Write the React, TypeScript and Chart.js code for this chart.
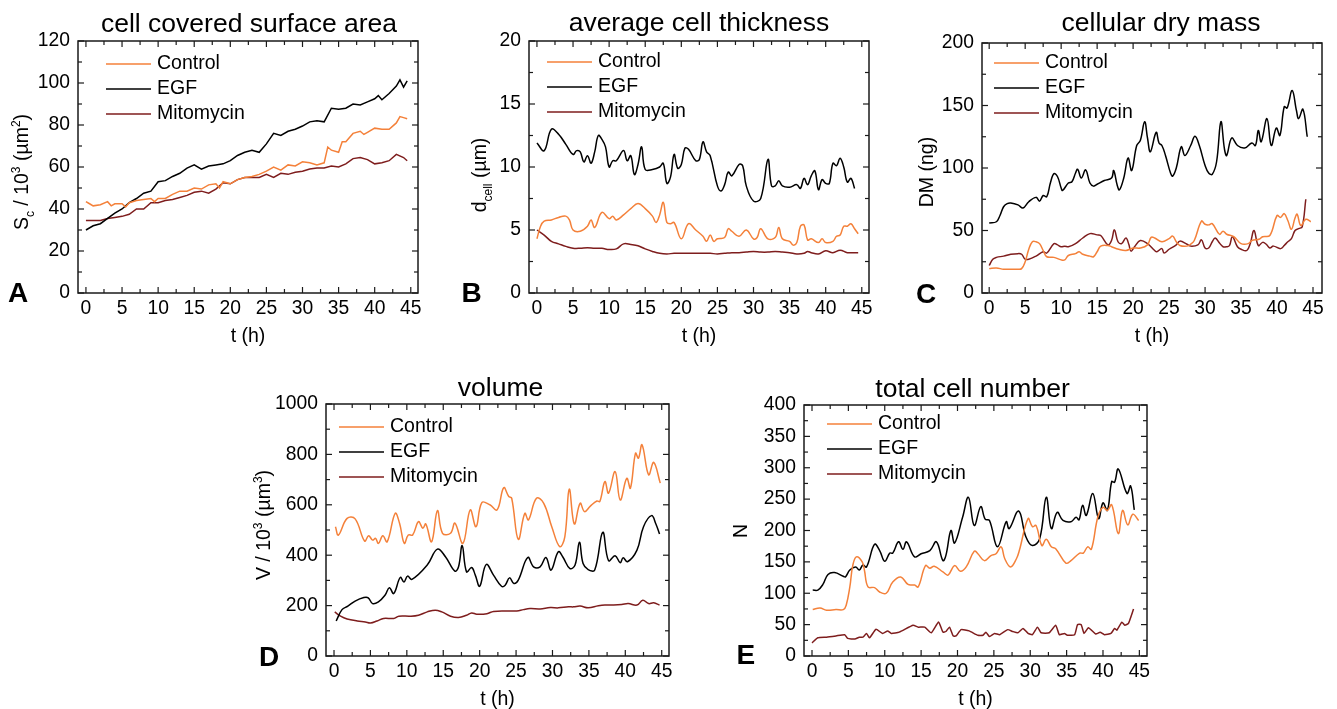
import React, { useEffect, useRef } from "react";
import { Chart, registerables } from "chart.js";
Chart.register(...registerables);

const FONT = 'Arial, "Liberation Sans", Helvetica, sans-serif';
const COLOR_CONTROL = "#F4813A";
const COLOR_EGF = "#000000";
const COLOR_MITO = "#7E1D1D";
const SERIES_NAMES = ["Control", "EGF", "Mitomycin"];

const X_TICKS = [0, 5, 10, 15, 20, 25, 30, 35, 40, 45];
const Y_TICKS_A = [0, 20, 40, 60, 80, 100, 120];
const Y_TICKS_B = [0, 5, 10, 15, 20];
const Y_TICKS_C = [0, 50, 100, 150, 200];
const Y_TICKS_D = [0, 200, 400, 600, 800, 1000];
const Y_TICKS_E = [0, 50, 100, 150, 200, 250, 300, 350, 400];

// ---------- A: cell covered surface area (10^3 µm^2) ----------
const A_CTRL_T = [0,0.5,1,2,3,3.5,4,5,5.5,6,7,8,9,9.5,10,11,12,13,14,15,16,17,18,18.5,19,20,21,22,23,24,25,26,27,28,29,30,31,32,33,33.5,34,35,35.5,36,37,38,38.5,39,40,41,42,43,43.5,44,44.5];
const A_CTRL_V = [43.5,42.5,41.5,42,43.5,41.5,42.5,42.5,41,43,44,44.5,45,43.5,45,45,47,48.5,48.5,50,49.5,51.5,52,50,53,52,54,55,55.5,56.5,58,60,58.5,61,60.5,62.5,62,61,62,69.5,68,67,72,72,76,77,75.5,76.5,78.5,78,78,81,84,83.5,83];
const A_EGF_T = [0,1,2,3,4,5,6,7,8,9,10,11,12,13,14,15,16,17,18,19,20,21,22,23,24,25,26,27,28,29,30,31,32,33,34,35,36,37,38,39,40,40.5,41,42,43,43.5,44,44.5];
const A_EGF_V = [30,32,33,35.5,38,40,43,45,47.5,48.5,53,53.5,55.5,57,59.5,61,59,60.5,61,61.5,63,65.5,67,68,67,71,76,75,77,78,79.5,81.5,82,81.5,88,87.5,88,90,89.5,91,92.5,94,92,95,98.5,101.5,98,101];
const A_MITO_T = [0,2,3,4,5,6,7,8,9,10,11,12,13,14,15,16,17,18,19,20,21,22,23,24,25,26,27,28,29,30,31,32,33,34,35,36,37,38,39,40,41,42,43,44,44.5];
const A_MITO_V = [34.5,34.5,35.5,36,36.5,37.5,40,40,43,43,44,44.5,45.5,46.5,48,48.5,47.5,49.5,52.5,52,54,55,55,55,56.5,55,57,56.5,57.5,58,59,59.5,59.5,60.5,60,61.5,64,64.5,63.5,61.5,62,63,66,64.5,63];

// ---------- B: average cell thickness (µm) ----------
const B_CTRL_T = [0,0.5,1,2,3,4,4.5,5,6,7,7.5,8,9,10,10.5,11,12,13,14,15,16,16.5,17,17.5,18,18.5,19,20,21,22,23,23.5,24,24.5,25,26,26.5,27,28,29,30,30.5,31,32,33,33.5,34,35,35.5,36,36.5,37,37.5,38,39,39.5,40,41,41.5,42,42.5,43,43.5,44,44.5];
const B_CTRL_V = [4.3,5.3,5.7,5.8,6.0,6.1,5.8,5.0,4.9,5.3,5.8,5.2,6.4,5.9,6.1,5.8,6.2,6.7,7.1,6.7,6.1,5.6,6.2,7.2,5.6,5.5,5.6,4.3,5.5,5.0,4.5,4.1,4.6,4.1,4.3,4.4,5.1,4.9,4.5,5.0,4.3,4.4,5.1,4.3,4.4,5.2,4.3,4.1,3.8,4.0,5.3,5.4,4.2,4.3,4.0,4.3,4.0,4.1,4.5,4.6,5.3,5.3,5.5,5.1,4.7];
const B_EGF_T = [0,1,2,3,4,5,5.5,6,6.5,7,7.5,8,8.5,9,9.5,10,10.5,11,12,12.5,13,13.5,14,14.5,15,16,17,17.5,18,18.5,19,19.5,20,20.5,21,22,22.5,23,23.5,24,25,25.5,26,26.5,27,28,28.5,29,30,31,32,32.5,33,33.5,34,35,36,36.5,37,37.5,38,38.5,39,39.5,40,40.5,41,41.5,42,42.5,43,43.5,44];
const B_EGF_V = [11.9,11.3,13.0,12.6,11.8,11.0,11.3,11.2,10.4,10.9,10.3,11.2,12.5,12.2,11.6,10.0,10.5,10.5,11.3,10.5,10.9,9.4,10.2,11.6,9.8,9.8,10.0,10.3,8.7,9.2,11.0,9.9,10.2,11.5,11.4,10.5,10.6,12.0,11.2,10.9,8.5,8.1,8.6,9.6,9.3,10.2,10.1,8.5,7.3,7.5,10.6,8.5,8.5,8.9,8.5,8.4,8.6,8.3,9.1,8.6,9.3,9.7,8.2,9.0,8.7,8.7,10.3,10.1,10.7,10.0,8.8,9.1,8.3];
const B_MITO_T = [0,1,2,3,4,5,6,7,8,9,10,11,12,13,14,15,16,17,18,19,20,21,22,23,24,25,26,27,28,29,30,31,32,33,34,35,36,37,37.5,38,39,40,41,42,43,44,44.5];
const B_MITO_V = [5.0,4.6,4.1,3.9,3.7,3.55,3.55,3.6,3.55,3.55,3.45,3.5,3.9,3.85,3.75,3.5,3.3,3.15,3.1,3.15,3.15,3.15,3.15,3.15,3.15,3.1,3.15,3.2,3.2,3.25,3.3,3.25,3.25,3.3,3.25,3.2,3.1,3.15,3.3,3.2,3.1,3.35,3.2,3.4,3.2,3.2,3.2];

// ---------- C: cellular dry mass (ng) ----------
const C_CTRL_T = [0,1,2,3,4,4.5,5,5.5,6,6.5,7,7.5,8,9,10,10.5,11,12,12.5,13,14,14.5,15,15.5,16.5,17,18,19,20,21,22,22.5,23,24,25,25.5,26,26.5,27.5,28,28.5,29.5,30,30.5,31,32,32.5,33,34,35,36,36.5,37.5,38,39,40,40.5,41,41.5,42,42.5,42.8,43.3,44,44.7];
const C_CTRL_V = [19.5,20,19,19,19,19.5,25,35,41,41,39.5,34,29,28.5,26.5,26.5,30,31.5,33,31,29.5,29,33,37.5,38,37,35,34,36,36,38.5,44.5,44,41,43.5,45.5,41,38,37.5,39,42,57.5,55,54.5,55.5,47,49.5,47,45,39.5,39.5,42,43,45,46,62,60.5,63.5,58,51,60,63,54,59,57];
const C_EGF_T = [0,1,1.5,2,2.5,3,4,4.7,5.5,6.5,7,7.5,8,8.5,9,9.5,10,10.2,11,11.5,12,12.3,12.8,13.4,14,14.5,15,16,17,17.3,17.8,18.1,18.7,19.3,19.8,20.5,21,21.6,22,22.4,23.2,23.6,24,24.5,25.2,25.5,26,26.7,27.2,28,28.6,29.2,30,30.5,31,31.6,32.2,32.7,33,33.7,34.5,35.5,36.5,37,37.4,37.8,38.6,39.2,39.9,40.4,41,41.4,42.1,42.7,43,43.6,44.2];
const C_EGF_V = [56,57,62,69,71.5,72,70.5,68,73,76.5,73.5,78,77,88,95.5,93,84,82,88,89,96,99,92,98.5,88,85.5,87,90,92,98,86,82.5,92,108,98,118,122,137,124,113,128.5,120,118,110,96,93.5,100,117,110,118,125.5,118,102,96,95,105,137,115,110,124,118,116,120,118,130,121,139.5,118,132,126,149,148,162,146,139.5,147,125];
const C_MITO_T = [0,0.5,1,2,3,4,4.5,5,5.5,6.5,7.5,8,9,9.5,10,10.5,11,12,13,14,15,15.5,16.5,17,17.4,17.9,18.4,19,19.4,19.7,20.2,21,22,23,23.3,24,24.3,25,26,26.5,27.5,28,29,29.5,30,30.5,31,31.4,32,32.5,33,33.4,33.8,34.5,35,35.8,36.3,36.8,37.4,38,38.5,39,39.5,40.5,41,41.5,42,42.5,43,43.5,44];
const C_MITO_V = [22,27,28.5,29.5,31,31.5,31,27,27,29.5,33,32,39.5,38.5,37,37.5,37,39.5,44,47.5,46.5,46,38.5,42,50.5,41,39.5,44,39,33.5,37,42,39.5,34,33,35.5,32,35,38.5,41.5,39,37.5,38.5,42.5,36,36,41,44,40,37,37,38,45,37,35,34,40,50,38,40.5,39,36,37.5,35.5,38,41,43.5,50,51.5,53,75];

// ---------- D: volume (10^3 µm^3) ----------
const D_CTRL_T = [0.2,0.6,1.8,2.9,4.2,4.75,5.3,5.7,6.1,6.7,7.3,8.4,9.0,9.65,10.2,10.8,11.6,12.2,12.6,13.4,14.2,14.9,16.0,16.6,17.7,18.7,19.5,20.3,21.4,22.4,23.3,24.0,24.4,25.3,26.2,26.7,27.8,28.8,29.9,31.0,31.7,32.3,33.0,33.8,34.4,35.2,36.1,36.5,37.2,37.7,38.6,39.3,40.2,40.7,41.4,41.8,42.3,43.2,43.9,44.8];
const D_CTRL_V = [513,480,546,544,456,477,460,467,447,477,453,566,527,447,480,480,533,507,524,453,577,487,487,527,447,580,513,609,600,580,668,633,626,463,566,540,626,606,513,434,474,662,524,606,573,595,615,613,692,646,732,619,705,666,805,785,838,719,768,686];
const D_EGF_T = [0.3,1.1,1.9,2.9,4.1,4.7,5.3,6.1,7.0,7.6,8.2,9.1,9.6,10.1,10.7,12.8,14.2,15.3,16.6,17.1,17.6,18.2,18.9,19.4,20.0,20.9,21.9,23.0,23.5,24.1,24.7,25.3,26.6,27.4,28.3,29.1,29.8,30.8,31.4,32.4,33.1,33.7,34.2,34.9,35.8,36.9,37.7,38.6,39.3,39.7,40.3,41.6,42.5,43.6,44.2,44.7];
const D_EGF_V = [139,184,198,218,232,231,208,215,241,271,248,312,294,317,304,361,424,394,337,354,438,334,351,321,277,363,321,277,281,310,288,301,391,354,354,391,341,414,394,347,361,451,367,343,341,491,378,398,370,390,374,420,513,557,524,484];
const D_MITO_T = [0.1,0.9,1.8,3.2,4.3,5.0,5.9,6.8,8.2,8.9,10.5,11.6,12.8,13.9,14.8,16.0,17.1,18.2,18.9,19.6,21.0,21.9,23.7,25.1,26.0,26.9,28.3,29.7,30.8,32.2,32.9,33.8,34.9,36.3,37.2,38.4,39.5,40.4,41.6,42.4,43.2,43.9,44.7];
const D_MITO_V = [175,158,147,139,135,131,139,149,149,158,158,162,175,182,175,158,153,162,171,166,168,177,179,179,184,188,187,192,191,195,195,198,191,199,202,202,204,208,202,221,208,211,202];

// ---------- E: total cell number ----------
const E_CTRL_T = [0.1,1.1,2.0,3.3,4.3,4.7,5.2,5.6,6.1,6.9,7.2,7.7,8.6,9.3,10.2,11.1,12.2,13.2,14.1,14.6,15.6,16.2,16.8,18.0,18.7,19.6,20.4,21.2,22.3,22.8,23.7,24.6,25.3,26.0,26.5,27.3,28.1,28.5,29.7,30.3,30.8,31.6,32.2,32.9,33.5,34.9,35.6,36.8,37.3,37.9,38.4,39.3,40.0,40.6,41.2,42.1,42.7,43.4,44.1,44.9];
const E_CTRL_V = [74,76.5,73,74,74,81,110,144,158,150,137,110,109,102,100,118,126,114,113,110,144,140,143,134,129,144,135,142,167,163,152,160,163,174,155,142,155,168,219,206,208,176,186,174,171,148,152,164,164,174,170,222,237,232,241,195,232,209,226,216];
const E_EGF_T = [0.1,0.8,1.5,2.2,3.1,4.3,4.6,5.2,6.0,6.5,7.0,7.5,8.6,9.3,10.0,10.7,11.1,11.9,12.5,13.0,14.1,15.0,16.2,17.1,18.0,18.4,19.1,19.6,20.7,21.5,22.3,23.2,23.8,24.4,25.5,26.7,27.1,28.4,29.4,30.3,31.3,32.2,32.9,33.7,34.5,35.6,36.3,36.7,37.2,37.7,38.6,39.4,40.0,40.6,41.2,41.6,42.1,43.3,43.8,44.3];
const E_EGF_V = [105,105,114,130,133,127,126,137,142,137,145,142,178,168,151,164,164,182,170,182,158,163,168,182,152,160,200,180,221,253,208,238,218,216,174,214,203,231,190,176,187,253,203,229,216,214,221,217,240,224,259,219,244,232,278,277,298,259,271,233];
const E_MITO_T = [0,0.8,2.0,3.3,4.5,4.9,5.9,6.5,7.0,7.5,7.9,8.8,9.7,10.4,10.9,12.0,13.9,14.6,15.5,16.4,17.4,18.0,18.4,18.9,19.4,19.8,20.5,21.6,22.8,23.5,23.9,24.4,25.1,25.8,26.9,27.6,28.3,29.0,29.7,30.3,31.0,31.5,32.6,33.5,34.0,34.7,35.1,36.1,36.5,37.0,37.4,38.0,39.0,39.6,40.2,41.1,41.6,41.9,42.6,43.0,43.5,44.2];
const E_MITO_V = [21,29,30,32,34,28,27,30,30,36,29,42.5,36,40,36,38,49,46,46,37,54,38,39,46,32,32,42,40,33,33,38,31,36,34,42,39,37,44,36,34,46,37,37,49,34,36,33,34,50,50,36,45,35,38,34,36,44,41,54,49,52,75];

type Seg = { t: string; k?: "sub" | "sup" };
type Series = { t: number[]; v: number[]; tension: number };
type Panel = {
  key: string; letter: string; title: string; yTitle: Seg[];
  left: number; top: number; w: number; h: number;
  L: number; R: number; T: number; B: number;
  xMin: number; xMax: number; yTicks: number[];
  titleX: number; titleY: number; yTitleX: number; yTitleY: number;
  letterX: number; letterY: number; xTitlePad: number;
  legendDx: number; legendDy: number;
  series: Series[];
};

const PANELS: Panel[] = [
  {
    key: "A", letter: "A", title: "cell covered surface area",
    yTitle: [{ t: "S" }, { t: "c", k: "sub" }, { t: " / 10" }, { t: "3", k: "sup" }, { t: " (µm" }, { t: "2", k: "sup" }, { t: ")" }],
    left: 0, top: 0, w: 440, h: 350, L: 78, R: 418, T: 41, B: 293,
    xMin: -1.1, xMax: 46, yTicks: Y_TICKS_A,
    titleX: 249, titleY: 31.5, yTitleX: 28, yTitleY: 172, letterX: 8, letterY: 302, xTitlePad: 1.3,
    legendDx: 28, legendDy: 23,
    series: [
      { t: A_CTRL_T, v: A_CTRL_V, tension: 0 },
      { t: A_EGF_T, v: A_EGF_V, tension: 0 },
      { t: A_MITO_T, v: A_MITO_V, tension: 0 },
    ],
  },
  {
    key: "B", letter: "B", title: "average cell thickness",
    yTitle: [{ t: "d" }, { t: "cell", k: "sub" }, { t: " (µm)" }],
    left: 440, top: 0, w: 450, h: 350, L: 89, R: 429, T: 41, B: 293,
    xMin: -1.1, xMax: 46, yTicks: Y_TICKS_B,
    titleX: 259, titleY: 31, yTitleX: 45.5, yTitleY: 175, letterX: 21.5, letterY: 302, xTitlePad: 1.3,
    legendDx: 18, legendDy: 21,
    series: [
      { t: B_CTRL_T, v: B_CTRL_V, tension: 0.4 },
      { t: B_EGF_T, v: B_EGF_V, tension: 0.4 },
      { t: B_MITO_T, v: B_MITO_V, tension: 0.4 },
    ],
  },
  {
    key: "C", letter: "C", title: "cellular dry mass",
    yTitle: [{ t: "DM (ng)" }],
    left: 890, top: 0, w: 447, h: 350, L: 92, R: 432, T: 43, B: 293,
    xMin: -1.0, xMax: 46.25, yTicks: Y_TICKS_C,
    titleX: 271, titleY: 31, yTitleX: 43, yTitleY: 172, letterX: 26, letterY: 303, xTitlePad: 1.3,
    legendDx: 12, legendDy: 20,
    series: [
      { t: C_CTRL_T, v: C_CTRL_V, tension: 0.4 },
      { t: C_EGF_T, v: C_EGF_V, tension: 0.4 },
      { t: C_MITO_T, v: C_MITO_V, tension: 0.4 },
    ],
  },
  {
    key: "D", letter: "D", title: "volume",
    yTitle: [{ t: "V / 10" }, { t: "3", k: "sup" }, { t: " (µm" }, { t: "3", k: "sup" }, { t: ")" }],
    left: 240, top: 370, w: 440, h: 339, L: 86, R: 429, T: 34, B: 286,
    xMin: -1.1, xMax: 46, yTicks: Y_TICKS_D,
    titleX: 260.5, titleY: 26, yTitleX: 30, yTitleY: 155, letterX: 19, letterY: 296, xTitlePad: -2.7,
    legendDx: 13, legendDy: 23,
    series: [
      { t: D_CTRL_T, v: D_CTRL_V, tension: 0.4 },
      { t: D_EGF_T, v: D_EGF_V, tension: 0.4 },
      { t: D_MITO_T, v: D_MITO_V, tension: 0.4 },
    ],
  },
  {
    key: "E", letter: "E", title: "total cell number",
    yTitle: [{ t: "N" }],
    left: 680, top: 370, w: 480, h: 339, L: 124, R: 467, T: 35, B: 286,
    xMin: -1.1, xMax: 46.05, yTicks: Y_TICKS_E,
    titleX: 292.5, titleY: 27, yTitleX: 66.5, yTitleY: 161, letterX: 56.5, letterY: 294, xTitlePad: -2.7,
    legendDx: 23, legendDy: 19,
    series: [
      { t: E_CTRL_T, v: E_CTRL_V, tension: 0.4 },
      { t: E_EGF_T, v: E_EGF_V, tension: 0.4 },
      { t: E_MITO_T, v: E_MITO_V, tension: 0.15 },
    ],
  },
];

const SERIES_COLORS = [COLOR_CONTROL, COLOR_EGF, COLOR_MITO];

function drawRich(ctx: CanvasRenderingContext2D, segs: Seg[], cx: number, cy: number) {
  const big = `19.5px ${FONT}`;
  const small = `12px ${FONT}`;
  let w = 0;
  segs.forEach((s) => {
    ctx.font = s.k ? small : big;
    w += ctx.measureText(s.t).width;
  });
  ctx.save();
  ctx.translate(cx, cy);
  ctx.rotate(-Math.PI / 2);
  ctx.textAlign = "left";
  ctx.textBaseline = "alphabetic";
  ctx.fillStyle = "#000";
  let x = -w / 2;
  segs.forEach((s) => {
    ctx.font = s.k ? small : big;
    const dy = s.k === "sub" ? 6 : s.k === "sup" ? -8.5 : 0;
    ctx.fillText(s.t, x, dy);
    x += ctx.measureText(s.t).width;
  });
  ctx.restore();
}

function makeDecor(p: Panel) {
  return {
    id: "decor" + p.key,
    afterDraw(chart: any) {
      const ctx: CanvasRenderingContext2D = chart.ctx;
      const { left, right, top, bottom } = chart.chartArea;
      const xs = chart.scales.x;
      const ys = chart.scales.y;
      const line = (x1: number, y1: number, x2: number, y2: number) => {
        ctx.beginPath();
        ctx.moveTo(x1, y1);
        ctx.lineTo(x2, y2);
        ctx.stroke();
      };
      ctx.save();
      ctx.strokeStyle = "#1a1a1a";
      ctx.lineWidth = 1.5;
      ctx.strokeRect(left, top, right - left, bottom - top);
      ctx.lineWidth = 1.2;
      const xv: number[] = xs.ticks.map((t: any) => t.value);
      const yv: number[] = ys.ticks.map((t: any) => t.value);
      const tickX = (v: number, len: number) => {
        const px = xs.getPixelForValue(v);
        line(px, bottom, px, bottom - len);
        line(px, top, px, top + len);
      };
      const tickY = (v: number, len: number) => {
        const py = ys.getPixelForValue(v);
        line(left, py, left + len, py);
        line(right, py, right - len, py);
      };
      xv.forEach((v) => tickX(v, 6));
      for (let i = 0; i < xv.length - 1; i++) tickX((xv[i] + xv[i + 1]) / 2, 4);
      yv.forEach((v) => tickY(v, 6));
      for (let i = 0; i < yv.length - 1; i++) tickY((yv[i] + yv[i + 1]) / 2, 4);

      // legend
      chart.data.datasets.forEach((ds: any, i: number) => {
        const y = top + p.legendDy + i * 25;
        const x0 = left + p.legendDx;
        ctx.strokeStyle = ds.borderColor;
        ctx.lineWidth = 1.5;
        line(x0, y, x0 + 45, y);
        ctx.fillStyle = "#000";
        ctx.font = `19.5px ${FONT}`;
        ctx.textAlign = "left";
        ctx.textBaseline = "middle";
        ctx.fillText(ds.label, x0 + 51, y);
      });

      // title
      ctx.fillStyle = "#000";
      ctx.font = `26.5px ${FONT}`;
      ctx.textAlign = "center";
      ctx.textBaseline = "alphabetic";
      ctx.fillText(p.title, p.titleX, p.titleY);

      // y axis title
      drawRich(ctx, p.yTitle, p.yTitleX, p.yTitleY);

      // panel letter
      ctx.font = `bold 28px ${FONT}`;
      ctx.textAlign = "left";
      ctx.textBaseline = "alphabetic";
      ctx.fillText(p.letter, p.letterX, p.letterY);
      ctx.restore();
    },
  };
}

function PanelChart({ p }: { p: Panel }) {
  const ref = useRef<HTMLCanvasElement>(null);
  useEffect(() => {
    if (!ref.current) return;
    const chart = new Chart(ref.current, {
      type: "line",
      data: {
        datasets: p.series.map((s, i) => ({
          label: SERIES_NAMES[i],
          data: s.t.map((t, j) => ({ x: t, y: s.v[j] })),
          borderColor: SERIES_COLORS[i],
          backgroundColor: SERIES_COLORS[i],
          borderWidth: 1.5,
          pointRadius: 0,
          pointHoverRadius: 0,
          tension: s.tension,
          fill: false,
        })),
      },
      options: {
        responsive: false,
        animation: false,
        devicePixelRatio: 1,
        events: [],
        layout: { padding: { left: 0, right: p.w - p.R, top: p.T, bottom: 0 } },
        plugins: {
          legend: { display: false },
          title: { display: false },
          tooltip: { enabled: false },
        },
        scales: {
          x: {
            type: "linear",
            min: p.xMin,
            max: p.xMax,
            afterBuildTicks: (s: any) => {
              s.ticks = X_TICKS.map((v) => ({ value: v }));
            },
            afterFit: (s: any) => {
              s.height = p.h - p.B;
            },
            ticks: {
              autoSkip: false,
              maxRotation: 0,
              padding: 4,
              color: "#000",
              font: { family: FONT, size: 19.3 },
              callback: (v: any) => String(v),
            },
            grid: { display: false, drawTicks: false },
            border: { display: false },
            title: {
              display: true,
              text: "t (h)",
              color: "#000",
              font: { family: FONT, size: 19.5 },
              padding: { top: 0, bottom: p.xTitlePad },
            },
          },
          y: {
            type: "linear",
            min: p.yTicks[0],
            max: p.yTicks[p.yTicks.length - 1],
            afterBuildTicks: (s: any) => {
              s.ticks = p.yTicks.map((v) => ({ value: v }));
            },
            afterFit: (s: any) => {
              s.width = p.L;
            },
            ticks: {
              autoSkip: false,
              padding: 8,
              color: "#000",
              font: { family: FONT, size: 19.3 },
              callback: (v: any) => String(v),
            },
            grid: { display: false, drawTicks: false },
            border: { display: false },
          },
        },
      } as any,
      plugins: [makeDecor(p)],
    });
    return () => chart.destroy();
  }, [p]);
  return (
    <canvas
      ref={ref}
      width={p.w}
      height={p.h}
      style={{ position: "absolute", left: p.left, top: p.top, width: p.w, height: p.h }}
    />
  );
}

export default function App() {
  return (
    <div
      style={{
        position: "absolute",
        left: 0,
        top: 0,
        width: 1337,
        height: 709,
        overflow: "hidden",
        background: "#fff",
      }}
    >
      {PANELS.map((p) => (
        <PanelChart key={p.key} p={p} />
      ))}
    </div>
  );
}
